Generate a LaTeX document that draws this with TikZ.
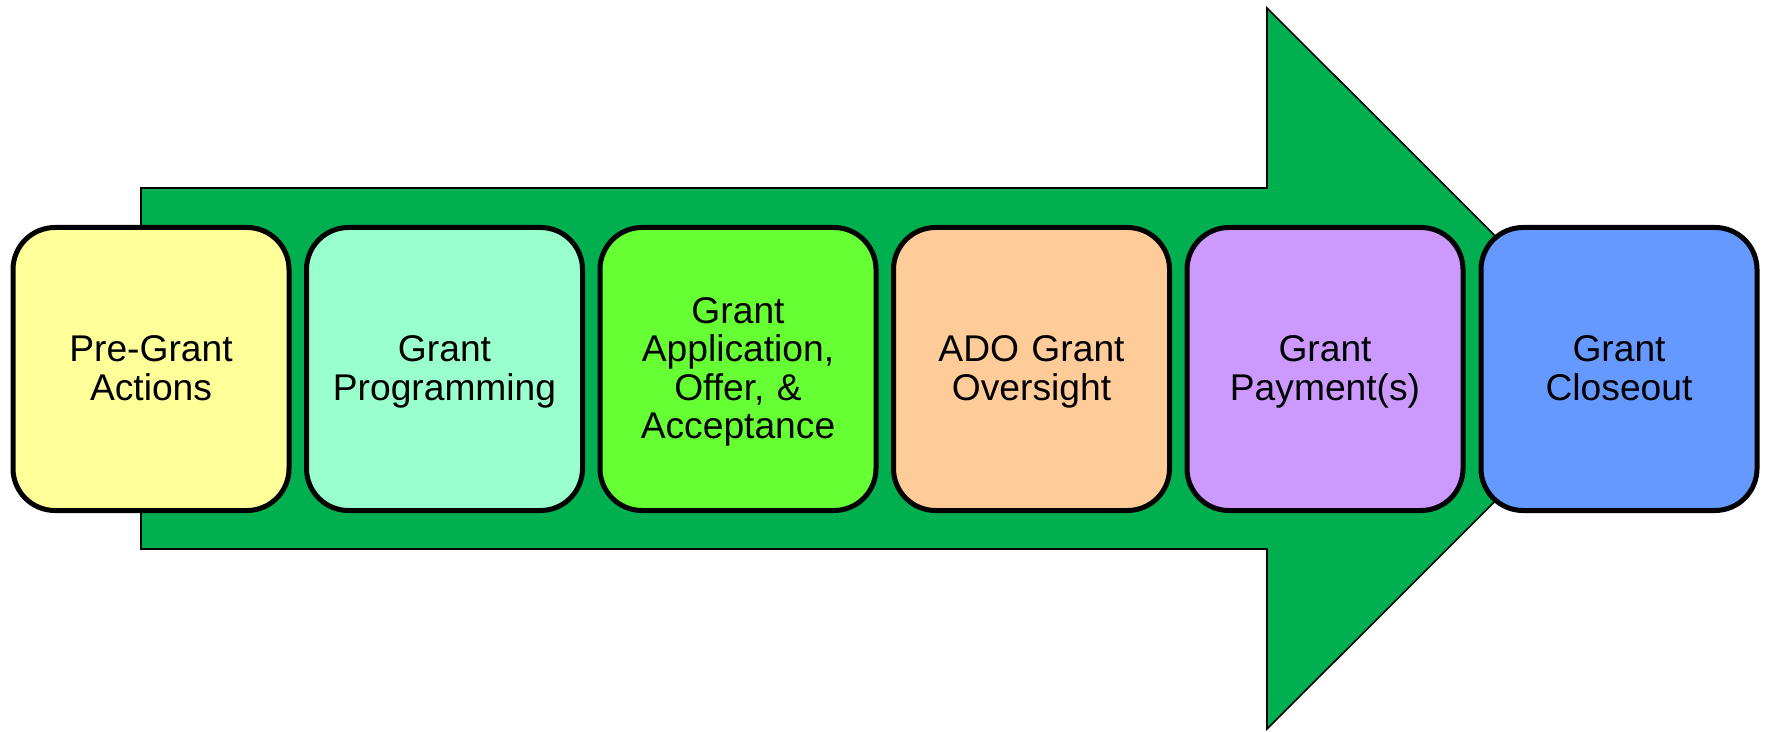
\documentclass[tikz,border=0pt]{standalone}
\usepackage{fontspec}
\setmainfont{Liberation Sans}
\definecolor{arrowgreen}{HTML}{00B050}
\definecolor{cA}{HTML}{FFFF99}
\definecolor{cB}{HTML}{99FFCC}
\definecolor{cC}{HTML}{66FF33}
\definecolor{cD}{HTML}{FFCC99}
\definecolor{cE}{HTML}{CC99FF}
\definecolor{cF}{HTML}{6699FF}
\newcommand\topstrut{\rule{0pt}{16.5pt}}
\newcommand\botstrut{\rule[-4.5pt]{0pt}{4.5pt}}
\begin{document}
\begin{tikzpicture}[x=0.5pt,y=-0.5pt,
  phase/.style={draw=black, line width=2.5pt, rounded corners=21pt,
    minimum width=138pt, minimum height=141.5pt, inner sep=0pt,
    align=center, text width=130pt,
    font=\fontsize{18.6pt}{19.3pt}\selectfont},
  bigarrow/.style={fill=arrowgreen, draw=black, line width=0.8pt, line join=miter}]
\useasboundingbox (0,0) rectangle (1765,732);
% big arrow
\coordinate (s1) at (141,188);
\coordinate (s2) at (1267,188);
\coordinate (h1) at (1267,8);
\coordinate (tip) at (1628,368.5);
\coordinate (h2) at (1267,729);
\coordinate (s3) at (1267,549);
\coordinate (s4) at (141,549);
\draw[bigarrow] (s1) -- (s2) -- (h1) -- (tip) -- (h2) -- (s3) -- (s4) -- cycle;
% phases
\node[phase, fill=cA] (p1) at (151,369) {\topstrut Pre-Grant\\Actions\botstrut};
\node[phase, fill=cB] (p2) at (444.5,369) {\topstrut Grant\\Programming\botstrut};
\node[phase, fill=cC] (p3) at (738,369) {\topstrut Grant\\Application,\\Offer, \&\\Acceptance\botstrut};
\node[phase, fill=cD] (p4) at (1031.5,369) {\topstrut ADO Grant\\Oversight\botstrut};
\node[phase, fill=cE] (p5) at (1325,369) {\topstrut Grant\\Payment(s)\botstrut};
\node[phase, fill=cF] (p6) at (1619,369) {\topstrut Grant\\Closeout\botstrut};
\end{tikzpicture}
\end{document}
